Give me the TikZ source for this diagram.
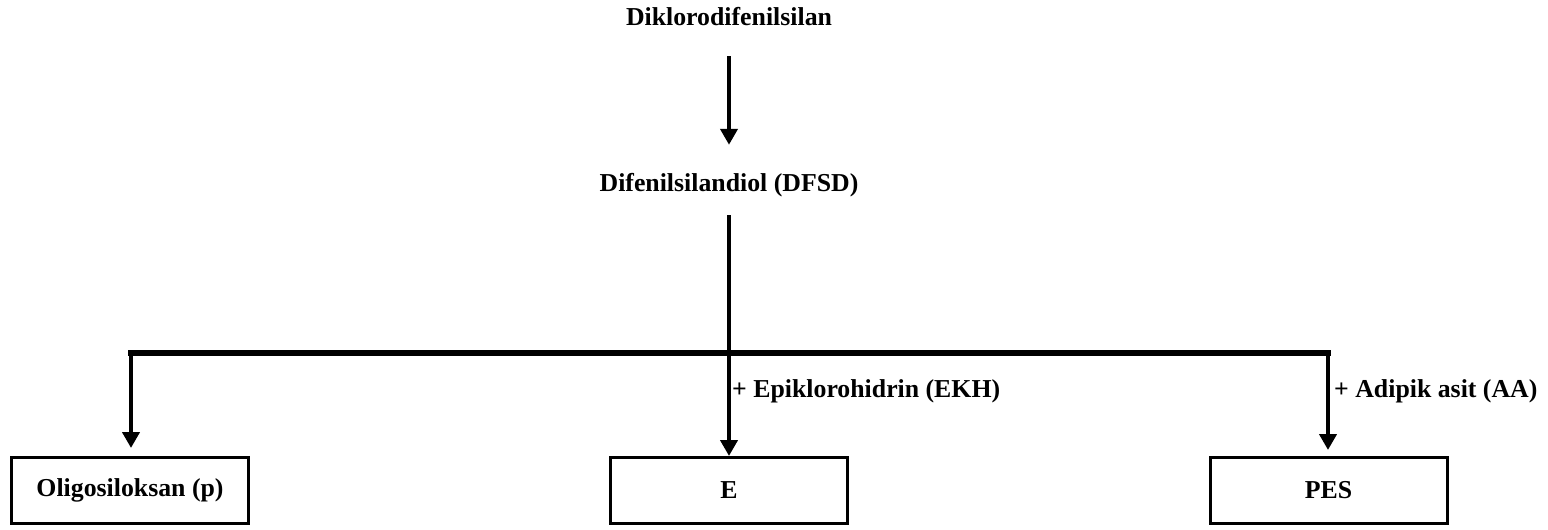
\documentclass[tikz,border=0pt]{standalone}
\usepackage{fontspec}
\setmainfont{Liberation Serif}
\usetikzlibrary{arrows.meta}
\begin{document}
\begin{tikzpicture}[x=1pt,y=-1pt,
  lbl/.style={font=\fontsize{25.8}{28}\selectfont\bfseries, inner sep=0pt, text height=18pt, text depth=5.5pt},
  prodbox/.style={draw, line width=3pt, minimum width=237pt, minimum height=66pt, inner sep=0pt, font=\fontsize{25.8}{28}\selectfont\bfseries},
  flow/.style={line width=4.5pt, -{Triangle[width=17pt,length=16pt]}},
  bar/.style={line width=6pt}
]
\useasboundingbox (0,0) rectangle (1548,530);
\node[lbl] (top) at (729,19) {Diklorodifenilsilan};
\node[lbl] (mid) at (729,185) {Difenilsilandiol (DFSD)};
\node[prodbox] (p) at (130,490.5) {Oligosiloksan (p)};
\node[prodbox] (e) at (729,490.5) {E};
\node[prodbox] (pes) at (1328.5,490.5) {PES};
\coordinate (jL) at (131,353);
\coordinate (jR) at (1328,353);
\draw[flow, shorten <=25.25pt, shorten >=28.25pt] (top.south) -- (mid.north);
\draw[flow, shorten <=18.25pt] (mid.south) -- (e.north);
\draw[bar, line cap=rect] (jL) -- (jR);
\draw[flow, shorten >=8pt] (jL) -- (jL |- p.north);
\draw[flow, shorten >=6pt] (jR) -- (jR |- pes.north);
\node[lbl, anchor=west] (ekh) at (732,391) {+ Epiklorohidrin (EKH)};
\node[lbl, anchor=west] (aa) at (1334,391) {+ Adipik asit (AA)};
\end{tikzpicture}
\end{document}
